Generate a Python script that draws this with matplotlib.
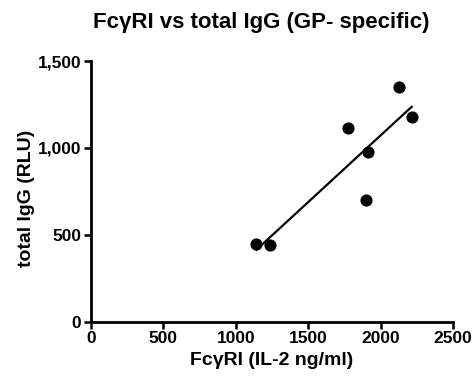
import numpy as np
import matplotlib.pyplot as plt
from matplotlib.ticker import FuncFormatter

plt.rcParams['font.family'] = ['Liberation Sans', 'DejaVu Sans']
plt.rcParams['font.weight'] = 'bold'

# données
fcgr1 = [1142, 1234, 1774, 1912, 1898, 2129, 2214]
igg_total = [446, 440, 1115, 979, 698, 1351, 1177]
xticks = [0, 500, 1000, 1500, 2000, 2500]
yticks = [0, 500, 1000, 1500]

fig = plt.figure(figsize=(4.76, 3.87), dpi=100)
ax = fig.add_axes([0.191, 0.169, 0.761, 0.673])

ax.scatter(fcgr1, igg_total, s=60, color='black', zorder=3)

# régression linéaire
pente, ordonnee = np.polyfit(fcgr1, igg_total, 1)
xr = np.array([min(fcgr1), max(fcgr1)])
ax.plot(xr, pente * xr + ordonnee, color='black', lw=1.6)

ax.set_xlim(0, 2500)
ax.set_ylim(0, 1500)
ax.set_xticks(xticks)
ax.set_yticks(yticks)
ax.yaxis.set_major_formatter(FuncFormatter(lambda v, p: f'{int(v):,}'))

for s in ['top', 'right']:
    ax.spines[s].set_visible(False)
for s in ['left', 'bottom']:
    ax.spines[s].set_linewidth(2)
ax.tick_params(length=5, width=1.8, labelsize=12.5, pad=2)

fig.text(0.549, 0.943, 'Fc\u03b3RI vs total IgG (GP- specific)', fontsize=16,
         fontweight='bold', ha='center', va='center')
ax.set_xlabel('Fc\u03b3RI (IL-2 ng/ml)', fontsize=14, fontweight='bold', labelpad=4)
ax.set_ylabel('total IgG (RLU)', fontsize=14, fontweight='bold')
ax.yaxis.set_label_coords(-0.155, 0.475)

fig.savefig('out.png', dpi=100)
